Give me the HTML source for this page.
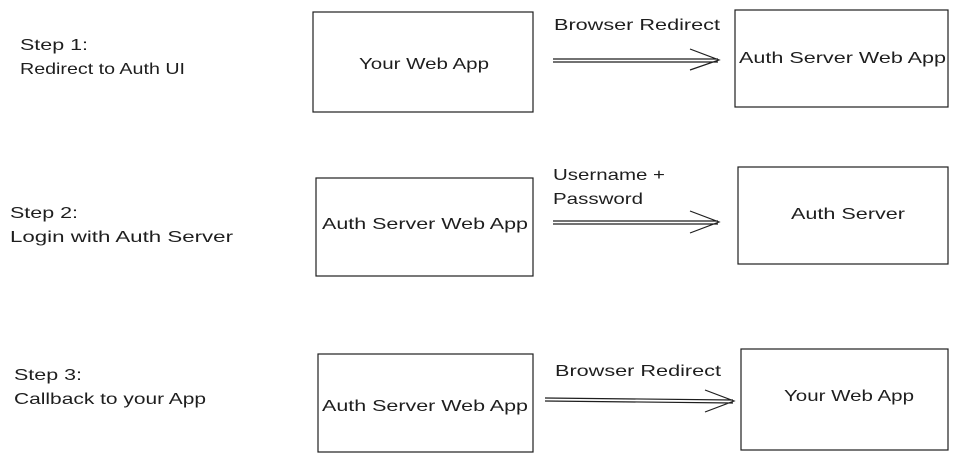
<!DOCTYPE html>
<html><head><meta charset="utf-8"><style>
html,body{margin:0;padding:0;background:#fff;}
svg{display:block}
text{font-family:"Liberation Sans",sans-serif;font-size:16px;fill:#1e1e1e}
</style></head><body>
<svg width="968" height="463" viewBox="0 0 968 463" xmlns="http://www.w3.org/2000/svg">
<g fill="none" stroke="#1e1e1e" stroke-width="1.2">
<rect x="313" y="12" width="220" height="100"/>
<rect x="735" y="10" width="213" height="97"/>
<rect x="316" y="178" width="217" height="98"/>
<rect x="738" y="167" width="210" height="97"/>
<rect x="318" y="354" width="215" height="98"/>
<rect x="741" y="349" width="207" height="101"/>
<!-- arrows -->
<path d="M553 59 L718 59 M553 62 L718 62 M690 49 L719 60 L690 70"/>
<path d="M553 221 L718 221 M553 224 L718 224 M690 211 L719 222 L690 233"/>
<path d="M545 398 L733 400 M545 401 L733 403 M705 390 L734 401 L705 412"/>
</g>
<text x="20" y="50" textLength="68" lengthAdjust="spacingAndGlyphs">Step 1:</text>
<text x="20" y="74" textLength="165" lengthAdjust="spacingAndGlyphs">Redirect to Auth UI</text>
<text x="10" y="218" textLength="68" lengthAdjust="spacingAndGlyphs">Step 2:</text>
<text x="10" y="242" textLength="223" lengthAdjust="spacingAndGlyphs">Login with Auth Server</text>
<text x="14" y="380" textLength="68" lengthAdjust="spacingAndGlyphs">Step 3:</text>
<text x="14" y="404" textLength="192" lengthAdjust="spacingAndGlyphs">Callback to your App</text>

<text x="359" y="69" textLength="130" lengthAdjust="spacingAndGlyphs">Your Web App</text>
<text x="739" y="63" textLength="207" lengthAdjust="spacingAndGlyphs">Auth Server Web App</text>
<text x="322" y="229" textLength="206" lengthAdjust="spacingAndGlyphs">Auth Server Web App</text>
<text x="791" y="219" textLength="114" lengthAdjust="spacingAndGlyphs">Auth Server</text>
<text x="322" y="411" textLength="206" lengthAdjust="spacingAndGlyphs">Auth Server Web App</text>
<text x="784" y="401" textLength="130" lengthAdjust="spacingAndGlyphs">Your Web App</text>

<text x="554" y="30" textLength="166" lengthAdjust="spacingAndGlyphs">Browser Redirect</text>
<text x="553" y="180" textLength="112" lengthAdjust="spacingAndGlyphs">Username +</text>
<text x="553" y="204" textLength="90" lengthAdjust="spacingAndGlyphs">Password</text>
<text x="555" y="376" textLength="166" lengthAdjust="spacingAndGlyphs">Browser Redirect</text>
</svg>
</body></html>
